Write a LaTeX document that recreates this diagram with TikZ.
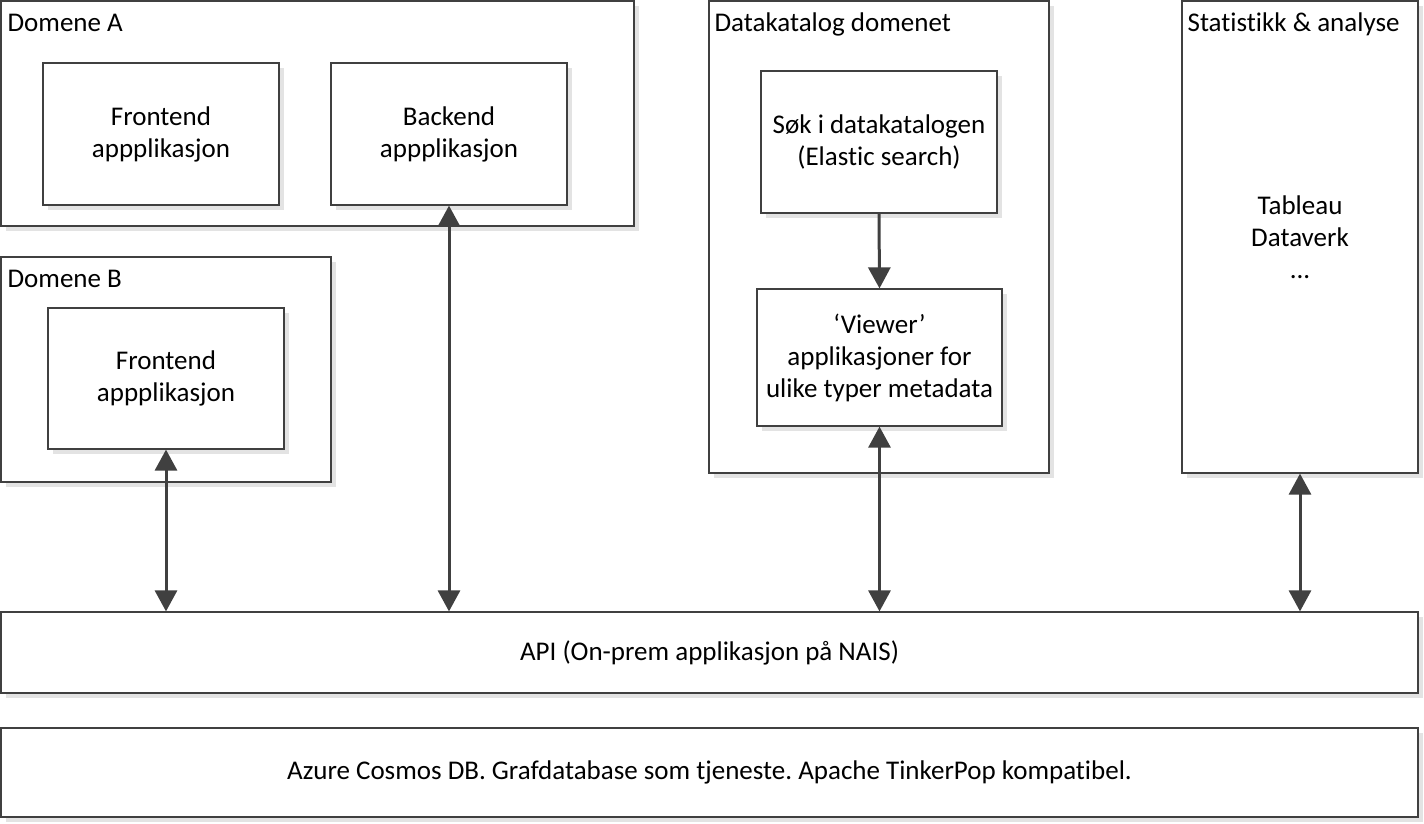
\documentclass[tikz,border=0pt]{standalone}
\usepackage{fontspec}
\setmainfont[Ligatures=NoCommon]{Carlito}
\frenchspacing
\usetikzlibrary{arrows.meta,shadows}
\definecolor{linegray}{HTML}{404040}
\definecolor{shadowgray}{HTML}{E3E3E3}
\begin{document}
\begin{tikzpicture}[x=1pt,y=-1pt,
        box/.style = {draw=linegray, line width=1.2pt, fill=white, inner sep=0pt,
                      align=center, font=\fontsize{27}{32}\selectfont,
                      drop shadow={shadow xshift=5pt, shadow yshift=-5pt, fill=shadowgray, opacity=1}},
        title/.style = {anchor=base west, inner sep=0pt, font=\fontsize{27}{32}\selectfont},
        arrow/.style = {line width=3pt, linegray, -{Triangle[width=22pt,length=21pt]}},
        dblarrow/.style = {arrow, {Triangle[width=22pt,length=21pt]}-{Triangle[width=22pt,length=21pt]}}]
    \useasboundingbox[fill=white] (0,0) rectangle (1424,823);

    % domains
    \node[box, minimum width=633pt, minimum height=225pt] (domA) at (317.5,113.5) {};
    \node[box, minimum width=330pt, minimum height=225pt] (domB) at (166,369.5) {};
    \node[box, minimum width=340pt, minimum height=472pt] (dkat) at (879,237) {};
    \node[box, minimum width=236pt, minimum height=472pt] (stat) at (1300,237) {Tableau\\Dataverk\\...};

    \node[title] at ([xshift=7pt,yshift=-31pt]domA.north west) {Domene A};
    \node[title] at ([xshift=7pt,yshift=-31pt]domB.north west) {Domene B};
    \node[title] at ([xshift=6pt,yshift=-31pt]dkat.north west) {Datakatalog domenet};
    \node[title] at ([xshift=6pt,yshift=-31pt]stat.north west) {Statistikk \& analyse};

    % applications
    \node[box, minimum width=236pt, minimum height=142pt] (feA) at (161,134) {Frontend\\appplikasjon};
    \node[box, minimum width=236pt, minimum height=142pt] (beA) at (449,134) {Backend\\appplikasjon};
    \node[box, minimum width=236pt, minimum height=141pt] (feB) at (166,378.5) {Frontend\\appplikasjon};
    \node[box, minimum width=236pt, minimum height=142pt] (sok) at (879,142) {Søk i datakatalogen\\(Elastic search)};
    \node[box, minimum width=245pt, minimum height=137pt] (viewer) at (879.5,357.5) {‘Viewer’\\applikasjoner for\\ulike typer metadata};

    % platform
    \node[box, minimum width=1417pt, minimum height=81pt] (api) at (709.5,652.5) {API (On-prem applikasjon på NAIS)};
    \node[box, minimum width=1417pt, minimum height=89pt] (azure) at (709.5,772.5) {Azure Cosmos DB. Grafdatabase som tjeneste. Apache TinkerPop kompatibel.};

    \draw[arrow] (sok.south) -- (viewer.north);
    \draw[dblarrow] (feB.south) -- (feB.south |- api.north);
    \draw[dblarrow] (beA.south) -- (beA.south |- api.north);
    \draw[dblarrow] (viewer.south) -- (viewer.south |- api.north);
    \draw[dblarrow] (stat.south) -- (stat.south |- api.north);
\end{tikzpicture}
\end{document}
